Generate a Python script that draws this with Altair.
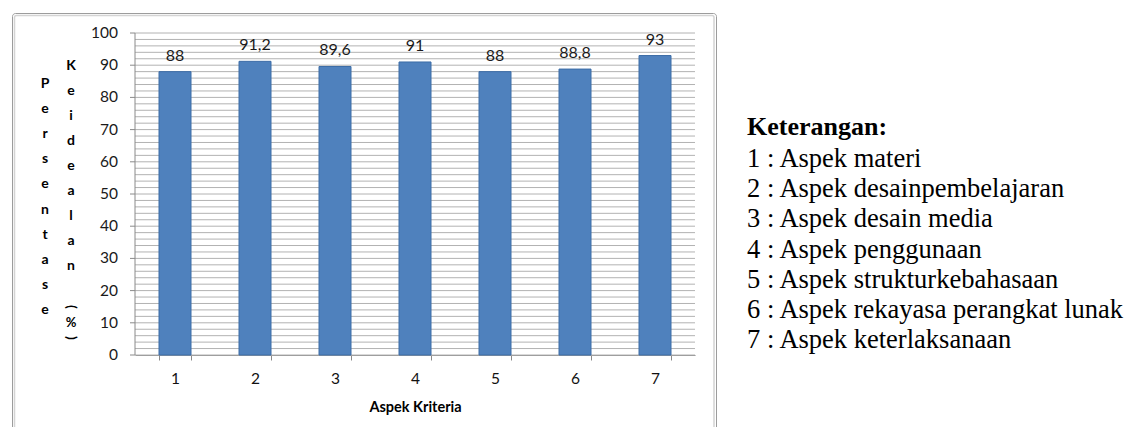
import altair as alt
import pandas as pd

# ---- data ----
categories = ["1", "2", "3", "4", "5", "6", "7"]
values = [88, 91.2, 89.6, 91, 88, 88.8, 93]
value_labels = ["88", "91,2", "89,6", "91", "88", "88,8", "93"]
y_ticks = [0, 10, 20, 30, 40, 50, 60, 70, 80, 90, 100]
y_tick_labels = ["0", "10", "20", "30", "40", "50", "60", "70", "80", "90", "100"]
grid_values = list(range(0, 101, 2))
x_title = "Aspek Kriteria"
y_title_1 = "Persentase"
y_title_2 = "Keidealan"
legend_title = "Keterangan:"
legend_items = [
    "1 : Aspek materi",
    "2 : Aspek desainpembelajaran",
    "3 : Aspek desain media",
    "4 : Aspek penggunaan",
    "5 : Aspek strukturkebahasaan",
    "6 : Aspek rekayasa perangkat lunak",
    "7 : Aspek keterlaksanaan",
]

# ---- layout (pixels) ----
W, H = 560, 322
LEFT, TOP = 135, 33
CANVAS_W, CANVAS_H = 1129, 427

df = pd.DataFrame({"kat": categories, "nilai": values, "label": value_labels})
grid_df = pd.DataFrame({"nilai": grid_values})
tick_df = pd.DataFrame({"nilai": y_ticks, "lab": y_tick_labels})
one = pd.DataFrame({"k": [0]})

yscale = alt.Scale(domain=[0, 100], nice=False, zero=True)
xscale = alt.Scale(paddingInner=0.6, paddingOuter=0.3)

FONT = "Lato"
SERIF = "Liberation Serif"
AXIS_GRAY = "#8a8a8a"


def x_axis():
    return alt.Axis(
        title=x_title, labelAngle=0, tickBand="extent",
        tickSize=5, labelPadding=11, labelFont=FONT, labelFontSize=15.5,
        labelColor="#111111", domainColor=AXIS_GRAY, tickColor=AXIS_GRAY,
        titleFont=FONT, titleFontSize=14.5, titleFontWeight="bold",
        titleColor="#000000", titleX=W / 2, titleY=52,
        titleBaseline="middle", grid=False,
    )


def yenc(field="nilai:Q"):
    return alt.Y(field, scale=yscale, axis=None)


# outer frame of the chart object
frame_outer = alt.Chart(one).mark_rect(
    filled=False, stroke="#9c9c9c", strokeWidth=1, cornerRadius=3
).encode(
    x=alt.value(12.5 - LEFT), x2=alt.value(716.5 - LEFT),
    y=alt.value(13.5 - TOP), y2=alt.value(CANVAS_H + 20 - TOP),
)
frame_inner = alt.Chart(one).mark_rect(
    filled=False, stroke="#d4d4d4", strokeWidth=1.5, cornerRadius=2
).encode(
    x=alt.value(14.5 - LEFT), x2=alt.value(714 - LEFT),
    y=alt.value(15.5 - TOP), y2=alt.value(CANVAS_H + 20 - TOP),
)

# horizontal gridlines every 2 units
grid = alt.Chart(grid_df).mark_rule(color="#b2b2b2", strokeWidth=1).encode(
    y=yenc(), x=alt.value(0), x2=alt.value(W),
)

# y axis drawn by hand: domain line, ticks, labels
y_domain = alt.Chart(one).mark_rule(color=AXIS_GRAY, strokeWidth=1).encode(
    x=alt.value(0), y=alt.value(0), y2=alt.value(H),
)
y_tick_marks = alt.Chart(tick_df).mark_rule(color=AXIS_GRAY, strokeWidth=1).encode(
    y=yenc(), x=alt.value(-5), x2=alt.value(0),
)
y_tick_text = alt.Chart(tick_df).mark_text(
    font=FONT, fontSize=15.5, color="#1a1a1a", align="right", baseline="middle"
).encode(
    y=yenc(), x=alt.value(-17), text="lab:N",
)

bars = alt.Chart(df).mark_bar(
    color="#4f81bd", stroke="#3c6ca6", strokeWidth=1
).encode(
    x=alt.X("kat:N", sort=categories, scale=xscale, axis=x_axis()),
    y=yenc(),
)

labels = alt.Chart(df).mark_text(
    font=FONT, fontSize=16, color="#1a1a1a", baseline="alphabetic", dy=-11
).encode(
    x=alt.X("kat:N", sort=categories, scale=xscale, axis=x_axis()),
    y=yenc(),
    text="label:N",
)

# stacked vertical y-axis title letters
ytitle1 = alt.Chart(one).mark_text(
    font=FONT, fontSize=14, fontWeight="bold", color="#000000",
    baseline="alphabetic", align="center", lineHeight=25.1,
    text=list(y_title_1),
).encode(x=alt.value(45 - LEFT), y=alt.value(88 - TOP))

ytitle2 = alt.Chart(one).mark_text(
    font=FONT, fontSize=14, fontWeight="bold", color="#000000",
    baseline="alphabetic", align="center", lineHeight=25,
    text=list(y_title_2),
).encode(x=alt.value(71 - LEFT), y=alt.value(70 - TOP))

paren_open = alt.Chart(one).mark_text(
    font=FONT, fontSize=14, fontWeight="bold", color="#000000",
    baseline="middle", align="center", angle=90, text="(",
).encode(x=alt.value(71 - LEFT), y=alt.value(307 - TOP))
percent = alt.Chart(one).mark_text(
    font=FONT, fontSize=13, fontWeight="bold", color="#000000",
    baseline="middle", align="center", text="%",
).encode(x=alt.value(71 - LEFT), y=alt.value(323 - TOP))
paren_close = alt.Chart(one).mark_text(
    font=FONT, fontSize=14, fontWeight="bold", color="#000000",
    baseline="middle", align="center", angle=90, text=")",
).encode(x=alt.value(71 - LEFT), y=alt.value(338 - TOP))

# legend text on the right
leg_title = alt.Chart(one).mark_text(
    font=SERIF, fontSize=26, fontWeight="bold", color="#000000",
    baseline="alphabetic", align="left", text=legend_title,
).encode(x=alt.value(747 - LEFT), y=alt.value(135 - TOP))

leg_items = alt.Chart(one).mark_text(
    font=SERIF, fontSize=26.5, color="#000000",
    baseline="alphabetic", align="left", lineHeight=30.2,
    text=legend_items,
).encode(x=alt.value(747 - LEFT), y=alt.value(167 - TOP))

chart = alt.layer(
    frame_outer, frame_inner, grid, y_domain, y_tick_marks, y_tick_text,
    bars, labels,
    ytitle1, ytitle2, paren_open, percent, paren_close,
    leg_title, leg_items,
).properties(
    width=W, height=H,
    padding={"left": LEFT, "top": TOP, "right": CANVAS_W - LEFT - W,
             "bottom": CANVAS_H - TOP - H},
    autosize=alt.AutoSizeParams(type="none"),
    background="#ffffff",
).configure_view(stroke=None)

chart.save("out.html", embed_options={"renderer": "svg", "actions": False})
